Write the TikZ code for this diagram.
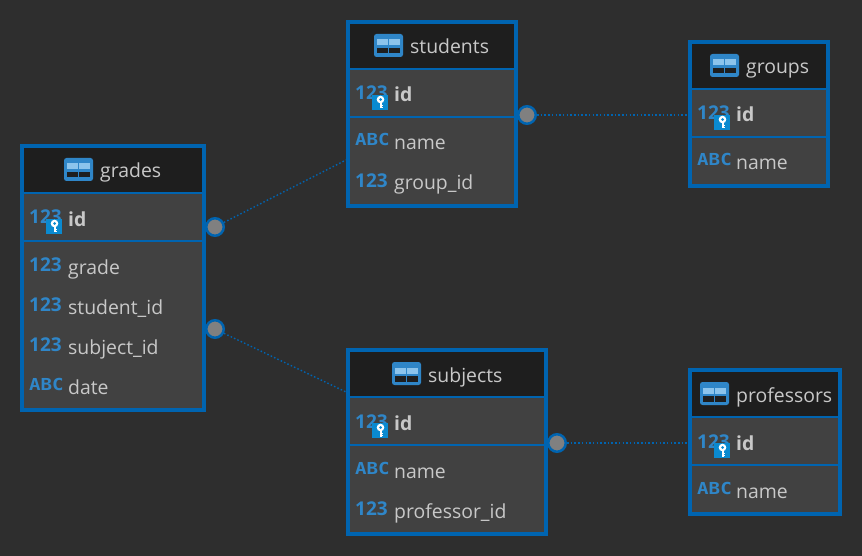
\documentclass[tikz,border=0pt]{standalone}
\usepackage{fontspec}
\setmainfont{Open Sans}
\newfontfamily\iconfont{DejaVu Sans Mono}[FakeStretch=1.16]
\definecolor{bgc}{HTML}{2E2E2E}
\definecolor{rowc}{HTML}{414141}
\definecolor{headc}{HTML}{1E1E1E}
\definecolor{edgec}{HTML}{0064B0}
\definecolor{txtc}{HTML}{C8C8C8}
\definecolor{iconc}{HTML}{2F86C8}
\definecolor{iconl}{HTML}{8CC4EC}
\definecolor{keyc}{HTML}{0A8AD0}
\definecolor{dotc}{HTML}{808080}
\tikzset{
  x=1pt,y=-1pt,
  tablebox/.style={draw=edgec,line width=4pt,fill=rowc,anchor=north west,inner sep=0pt,outer sep=0pt},
  titletxt/.style={anchor=base west,inner sep=0pt,text=txtc,font=\fontsize{19.4}{23}\selectfont},
  coltxt/.style={anchor=base west,inner sep=0pt,text=txtc,font=\fontsize{19.4}{23}\selectfont},
  pktxt/.style={anchor=base west,inner sep=0pt,text=txtc,font=\fontsize{19.4}{23}\selectfont\bfseries},
  numicon/.style={anchor=base west,inner sep=0pt,text=iconc,font=\fontsize{19}{23}\selectfont\bfseries},
  abcicon/.style={anchor=base west,inner sep=0pt,text=iconc,font=\iconfont\fontsize{16.5}{20}\selectfont\bfseries},
  reldot/.style={circle,draw=edgec,line width=2.5pt,fill=dotc,minimum size=17.5pt,inner sep=0pt},
  rel/.style={draw=edgec,line width=1.4pt,dash pattern=on 1.5pt off 2.2pt},
  sep/.style={draw=edgec,line width=2pt},
}
% #1 name, #2 left, #3 top, #4 outer width, #5 outer height, #6 title, #7 icon left
\newcommand{\dbtable}[7]{
  \node[tablebox,minimum width=#4pt-4pt,minimum height=#5pt-4pt] (#1) at (#2+2,#3+2) {};
  \fill[headc] (#2+4,#3+4) rectangle (#2+#4-4,#3+48);
  \draw[sep] (#2+3,#3+49) -- (#2+#4-3,#3+49);
  \draw[sep] (#2+3,#3+97) -- (#2+#4-3,#3+97);
  \fill[iconc,rounded corners=2.5pt] (#7,#3+14) rectangle (#7+29,#3+37);
  \fill[iconl] (#7+3,#3+19.5) rectangle (#7+13.8,#3+25.5);
  \fill[iconl] (#7+15.2,#3+19.5) rectangle (#7+26,#3+25.5);
  \fill[headc] (#7+3,#3+28) rectangle (#7+13.8,#3+33.5);
  \fill[headc] (#7+15.2,#3+28) rectangle (#7+26,#3+33.5);
  \node[titletxt] (#1title) at (#7+36,#3+34) {#6};
  \node[numicon] (#1pkicon) at (#2+9,#3+80) {123};
  \fill[keyc] (#2+26,#3+75) rectangle (#2+42,#3+90);
  \fill[white] (#2+34.5,#3+79.5) circle[radius=3.8pt];
  \fill[keyc] (#2+34.5,#3+79.5) circle[radius=1.5pt];
  \fill[white] (#2+33.5,#3+82) rectangle (#2+35.5,#3+88.5);
  \fill[white] (#2+35.5,#3+85) rectangle (#2+37.2,#3+86);
  \fill[white] (#2+35.5,#3+87) rectangle (#2+37.2,#3+88);
  \node[pktxt] (#1pk) at (#2+48,#3+82) {id};
}
% #1 node name, #2 left, #3 baseline y, #4 text
\newcommand{\numcol}[4]{
  \node[numicon] (#1icon) at (#2+9,#3-1.3) {123};
  \node[coltxt] (#1) at (#2+48,#3+1) {#4};
}
\newcommand{\abccol}[4]{
  \node[abcicon] (#1icon) at (#2+9,#3-3) {ABC};
  \node[coltxt] (#1) at (#2+48,#3+1) {#4};
}
\begin{document}
\begin{tikzpicture}
\useasboundingbox (0,0) rectangle (862,556);
\fill[bgc] (0,0) rectangle (862,556);
\coordinate (e1) at (346,160);
\coordinate (e2) at (346,392);
\coordinate (e3) at (688,115);
\coordinate (e4) at (688,443);
\node[reldot] (d1) at (215,227) {};
\node[reldot] (d2) at (215,329) {};
\node[reldot] (d3) at (527,115) {};
\node[reldot] (d4) at (557,443) {};
\draw[rel] (d1) -- (e1);
\draw[rel] (d2) -- (e2);
\draw[rel] (d3) -- (e3);
\draw[rel] (d4) -- (e4);
\dbtable{grades}{20}{144}{186}{268}{grades}{64}
\numcol{ggrade}{20}{273}{grade}
\numcol{gstudent}{20}{313}{student\_id}
\numcol{gsubject}{20}{353}{subject\_id}
\abccol{gdate}{20}{393}{date}
\dbtable{students}{346}{20}{172}{188}{students}{374}
\abccol{sname}{346}{149}{name}
\numcol{sgroup}{346}{189}{group\_id}
\dbtable{groups}{688}{40}{142}{148}{groups}{710}
\abccol{grname}{688}{169}{name}
\dbtable{subjects}{346}{348}{202}{188}{subjects}{392}
\abccol{suname}{346}{477}{name}
\numcol{suprof}{346}{517}{professor\_id}
\dbtable{professors}{688}{368}{154}{148}{professors}{700}
\abccol{pname}{688}{497}{name}
\end{tikzpicture}
\end{document}
